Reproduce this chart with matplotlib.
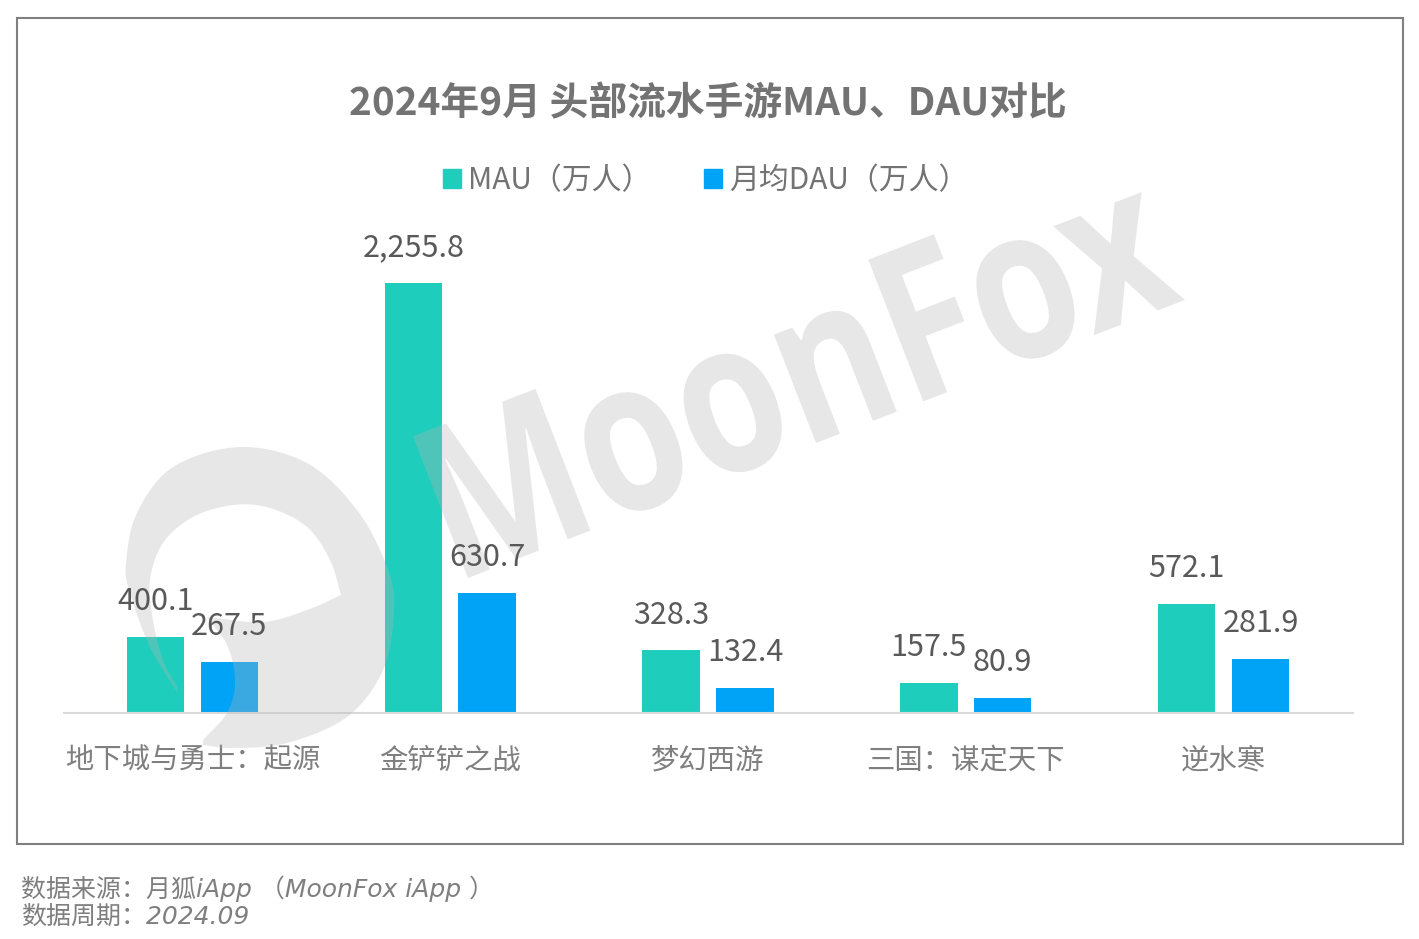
import numpy as np
import matplotlib
matplotlib.use("Agg")
import matplotlib.pyplot as plt
from matplotlib.patches import PathPatch, Rectangle
from matplotlib.path import Path
from matplotlib.textpath import TextPath
from matplotlib.font_manager import FontProperties
from matplotlib.transforms import Affine2D

plt.rcParams['font.family'] = ['Noto Sans CJK SC', 'DejaVu Sans']

categories = ['地下城与勇士：起源', '金铲铲之战', '梦幻西游', '三国：谋定天下', '逆水寒']
mau = [400.1, 2255.8, 328.3, 157.5, 572.1]
dau = [267.5, 630.7, 132.4, 80.9, 281.9]
mau_name = 'MAU（万人）'
dau_name = '月均DAU（万人）'
title = '2024年9月 头部流水手游MAU、DAU对比'
source_lines = ['数据来源：月狐iApp （MoonFox iApp ）', '数据周期：2024.09']

W, H = 1419, 939
TEAL, BLUE = '#1FCDBC', '#00A3F5'
px = Affine2D().scale(1, -1).translate(0, H)   # image pixels -> display

fig = plt.figure(figsize=(W / 100, H / 100), dpi=100, facecolor='white')
ax = fig.add_axes([63.5 / W, (H - 713) / H, 1289 / W, 500 / H])
ax.patch.set_alpha(0)

x = np.arange(len(categories))
bw, off = 57.5 / 258, 37 / 258
b1 = ax.bar(x - off, mau, bw, color=TEAL, zorder=2)
b2 = ax.bar(x + off, dau, bw, color=BLUE, zorder=2)
ax.set_xlim(-0.5, 4.5)
ax.set_ylim(0, 500 / (430 / 2255.8))
ax.set_yticks([])
ax.set_xticks(x, categories, fontsize=20.4, color='#7F7F7F')
ax.tick_params(axis='x', length=0, pad=23.5)
for s in ('top', 'left', 'right'):
    ax.spines[s].set_visible(False)
ax.spines['bottom'].set_color('#D9D9D9')
ax.spines['bottom'].set_linewidth(1.5)

for bars, vals in ((b1, mau), (b2, dau)):
    for r, v in zip(bars, vals):
        ax.annotate(f'{v:,.1f}', (r.get_x() + r.get_width() / 2, v), xytext=(0, 25.5),
                    textcoords='offset points', ha='center', va='center',
                    fontsize=22, color='#595959', zorder=6)

# frame
fig.add_artist(Rectangle((17, 18), 1386, 826, transform=px, fill=False,
                         edgecolor='#7F7F7F', linewidth=1.5))

def T(xp, yp, s, **kw):
    return fig.text(xp / W, 1 - yp / H, s, **kw)

T(708, 104, title, ha='center', va='center', fontsize=27.9, fontweight='bold', color='#737373')

handles = [Rectangle((0, 0), 1, 1, color=TEAL), Rectangle((0, 0), 1, 1, color=BLUE)]
fig.legend(handles, [mau_name, dau_name], ncols=2, loc='center',
           bbox_to_anchor=(706 / W, 1 - 181 / H), frameon=False, fontsize=21.5,
           labelcolor='#737373', handlelength=0.6, handleheight=0.6,
           handletextpad=0.24, columnspacing=1.75, borderpad=0, borderaxespad=0)

for yp, s in zip((889, 917), source_lines):
    T(21, yp, s, ha='left', va='center', fontsize=18, style='italic', color='#7F7F7F',
      family=['DejaVu Sans', 'Noto Sans CJK SC'])

# --- watermark (decorative) ---
WM = dict(facecolor='#B7B7B7', edgecolor='none', alpha=0.32, zorder=3, clip_on=False)

def smooth(pts, n=12):
    p = np.array(pts, float)
    p = np.vstack([2 * p[0] - p[1], p, 2 * p[-1] - p[-2]])
    out = []
    for i in range(1, len(p) - 2):
        for t in np.linspace(0, 1, n, endpoint=False):
            a, b, c, d = p[i - 1], p[i], p[i + 1], p[i + 2]
            out.append(0.5 * (2 * b + (c - a) * t + (2 * a - 5 * b + 4 * c - d) * t ** 2
                              + (3 * b - a - 3 * c + d) * t ** 3))
    out.append(p[-2])
    return out

outer = [(177, 692), (150, 647), (130, 593), (126, 563), (137, 513), (173, 467), (240, 447),
         (307, 463), (357, 510), (387, 567), (394, 610), (383, 670), (347, 717), (287, 743),
         (233, 748), (203, 745)]
tail = [(203, 740), (227, 713), (235, 683), (228, 647), (207, 617)]
notch = [(207, 617), (263, 622), (307, 610), (341, 595)]
inner = [(341, 595), (330, 560), (307, 527), (270, 508), (233, 505), (193, 517), (163, 543),
         (150, 580), (153, 620), (163, 660), (177, 687)]
verts = np.array(smooth(outer) + smooth(tail) + smooth(notch) + smooth(inner))
ax.add_patch(PathPatch(Path(np.vstack([verts, verts[0]]), closed=True), transform=px, **WM))

fp = FontProperties(family='Open Sans', weight='bold')
tp = TextPath((0, 0), 'MoonFox', size=100, prop=fp)
bb = tp.get_extents()
sx, sy = 769 / bb.width, 152 / (TextPath((0, 0), 'M', size=100, prop=fp).get_extents().height)
tr = (Affine2D().translate(-bb.x0, 0).scale(sx, sy).rotate_deg(21.2)
      .translate(468, H - 578))
ax.add_patch(PathPatch(tp, transform=tr, **WM))

fig.savefig('out.png', dpi=100)
